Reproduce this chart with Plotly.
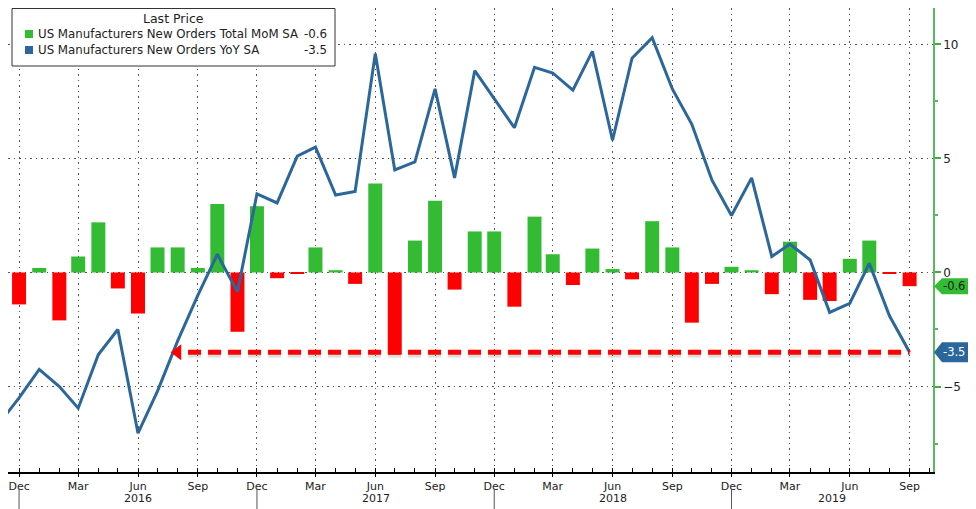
import pandas as pd
import plotly.graph_objects as go

# monthly points, Nov 2015 .. Sep 2019 (Nov 2015 only for the line, it runs off the left edge)
months = pd.date_range("2015-11-01", "2019-09-01", freq="MS")

# US Manufacturers New Orders YoY SA
yoy = [-6.6, -5.5,
       -4.25, -5.0, -5.95, -3.6, -2.5, -7.05, -5.2, -3.0, -1.0, 0.8, -0.85, 3.45,
       3.05, 5.1, 5.5, 3.4, 3.55, 9.6, 4.5, 4.85, 8.05, 4.15, 8.85, 7.6,
       6.35, 9.0, 8.75, 8.0, 9.7, 5.8, 9.4, 10.3, 8.05, 6.5, 4.05, 2.5,
       4.15, 0.7, 1.25, 0.55, -1.75, -1.35, 0.4, -1.9, -3.5]

# US Manufacturers New Orders Total MoM SA, Dec 2015 .. Sep 2019
mom = [-1.4,
       0.2, -2.1, 0.7, 2.2, -0.7, -1.8, 1.1, 1.1, 0.2, 3.0, -2.6, 2.9,
       -0.25, -0.05, 1.1, 0.1, -0.5, 3.9, -3.6, 1.4, 3.15, -0.75, 1.8, 1.8,
       -1.5, 2.45, 0.8, -0.55, 1.05, 0.15, -0.3, 2.25, 1.1, -2.2, -0.5, 0.25,
       0.1, -0.95, 1.35, -1.2, -1.25, 0.6, 1.4, -0.05, -0.6]
mom_months = months[1:]

quarter_ticks = pd.date_range("2015-12-01", "2019-09-01", freq="3MS")
year_labels = ["2016", "2017", "2018", "2019"]
year_breaks = pd.to_datetime(["2015-12-01", "2016-12-01", "2017-12-01", "2018-12-01"])

x_start = pd.Timestamp("2015-11-14")
x_end = pd.Timestamp("2019-10-07")
y_lo, y_hi = -8.75, 11.6

arrow_tip = pd.Timestamp("2016-08-01")   # where the red arrow points back to
names = ["US Manufacturers New Orders Total MoM SA", "US Manufacturers New Orders YoY SA"]

GREEN = "#33bb33"
RED = "#ff0000"
BLUE = "#2c679c"
FONT = "DejaVu Sans"
GRID = "#555"
GRIDDASH = "1.5px,4px"

# the page has an 8px body margin, so the figure is 8px smaller and
# positions below are given in screen pixels, then shifted
OFF = 8
W, H = 976 - OFF, 509 - OFF
ML, MR, MT, MB = 0, 43, 0, 37
PW, PH = W - ML - MR, H - MT - MB


def px(x):
    return (x - OFF - ML) / PW


def py(y):
    return 1 - (y - OFF - MT) / PH


bar_colors = [GREEN if v >= 0 else RED for v in mom]

fig = go.Figure()
fig.add_trace(go.Bar(x=mom_months, y=mom, marker=dict(color=bar_colors, line=dict(width=0)),
                     width=21.5 * 86400000, name=names[0]))
fig.add_trace(go.Scatter(x=months, y=yoy, mode="lines", line=dict(color=BLUE, width=3),
                         name=names[1]))

# red dashed arrow at the latest YoY level
last_yoy = yoy[-1]
fig.add_trace(go.Scatter(x=[arrow_tip + pd.Timedelta(days=16), months[-1]],
                         y=[last_yoy - 0.13] * 2, mode="lines",
                         line=dict(color="rgba(0,0,0,0.12)", width=5, dash="13px,7px")))
fig.add_trace(go.Scatter(x=[arrow_tip + pd.Timedelta(days=16), months[-1]],
                         y=[last_yoy] * 2, mode="lines",
                         line=dict(color=RED, width=5, dash="13px,7px")))
fig.add_trace(go.Scatter(x=[arrow_tip], y=[last_yoy], mode="markers",
                         marker=dict(symbol="triangle-left", size=14, color=RED)))

shapes = []
annotations = []

# year separators and labels under the axis
for i, (lab, b) in enumerate(zip(year_labels, year_breaks)):
    nxt = year_breaks[i + 1] if i + 1 < len(year_breaks) else x_end
    shapes.append(dict(type="line", xref="x", yref="paper", x0=b, x1=b,
                       y0=py(489), y1=py(509), line=dict(color="#555", width=1)))
    annotations.append(dict(x=b + (nxt - b) / 2, y=py(499), xref="x", yref="paper",
                            xanchor="center", yanchor="middle",
                            text=lab, showarrow=False, font=dict(family=FONT, size=11, color="#222")))

# last value tags on the right axis
for val, col, tcol, hpx in [(mom[-1], GREEN, "#1a1a1a", 8), (yoy[-1], BLUE, "white", 10)]:
    h = hpx / (PH / (y_hi - y_lo))
    path = (f"M {px(934)} {val} L {px(942)} {val + h} L {px(968)} {val + h} "
            f"L {px(968)} {val - h} L {px(942)} {val - h} Z")
    shapes.append(dict(type="path", xref="paper", yref="y", path=path,
                       fillcolor=col, line=dict(width=0), layer="above"))
    annotations.append(dict(x=px(954), y=val, xref="paper", yref="y", text=f"{val:.1f}",
                            xanchor="center", yanchor="middle",
                            showarrow=False, font=dict(family=FONT, size=11.5, color=tcol)))

# legend box
shapes.append(dict(type="rect", xref="paper", yref="paper", x0=px(12), x1=px(335),
                   y0=py(66), y1=py(8.5), fillcolor="white", line=dict(color="#333", width=1),
                   layer="above"))
annotations.append(dict(x=px(173), y=py(19), xref="paper", yref="paper", text="Last Price",
                        xanchor="center", yanchor="middle",
                        showarrow=False, font=dict(family=FONT, size=12.5, color="#222")))
for row, (nm, col, val) in enumerate([(names[0], GREEN, mom[-1]), (names[1], BLUE, yoy[-1])]):
    yc = 34 + row * 16
    shapes.append(dict(type="rect", xref="paper", yref="paper", x0=px(25), x1=px(33),
                       y0=py(yc + 4), y1=py(yc - 4), fillcolor=col, line=dict(width=0),
                       layer="above"))
    annotations.append(dict(x=px(36), y=py(yc), xref="paper", yref="paper", text=nm,
                            xanchor="left", yanchor="middle", showarrow=False,
                            font=dict(family=FONT, size=11.8, color="#222")))
    annotations.append(dict(x=px(329), y=py(yc), xref="paper", yref="paper", text=f"{val:.1f}",
                            xanchor="right", yanchor="middle", showarrow=False,
                            font=dict(family=FONT, size=11.8, color="#222")))

fig.update_layout(
    width=W, height=H,
    margin=dict(l=ML, r=MR, t=MT, b=MB),
    plot_bgcolor="white", paper_bgcolor="white",
    showlegend=False,
    shapes=shapes, annotations=annotations,
    xaxis=dict(type="date", range=[x_start, x_end], tickvals=quarter_ticks, tickformat="%b",
               ticks="outside", ticklen=3, tickcolor="black",
               showline=True, linecolor="black", linewidth=1.5,
               showgrid=True, gridcolor=GRID, griddash=GRIDDASH, gridwidth=1,
               minor=dict(dtick="M1", ticks="inside", ticklen=4, tickcolor="black", showgrid=False),
               tickfont=dict(family=FONT, size=11, color="#222"), zeroline=False),
    yaxis=dict(side="right", range=[y_lo, y_hi], tickvals=[-5, 0, 5, 10],
               ticks="outside", ticklen=6, tickwidth=2, tickcolor="#3cb043",
               showline=True, linecolor="#5cb85c", linewidth=1.5,
               showgrid=True, gridcolor=GRID, griddash=GRIDDASH, gridwidth=1,
               minor=dict(tick0=0, dtick=2.5, ticks="outside", ticklen=3, tickcolor="#5cb85c",
                          showgrid=False),
               tickfont=dict(family=FONT, size=12, color="#222"), zeroline=False),
)

fig.write_html("out.html")
